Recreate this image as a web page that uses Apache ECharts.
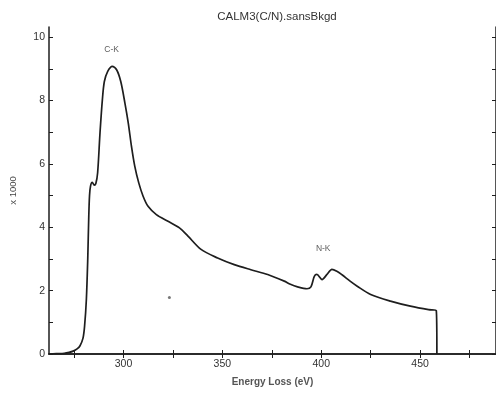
<!DOCTYPE html>
<html>
<head>
<meta charset="utf-8">
<script src="https://cdn.jsdelivr.net/npm/echarts@6/dist/echarts.min.js"></script>
<style>html,body{margin:0;padding:0;background:#fff;}#c{width:496px;height:397px;}</style>
</head>
<body>
<div id="c"></div>
<script>
// Energy loss (eV)
const energy = [262, 266, 270, 272.5, 274.5, 276.5, 278, 279.5, 280.3, 281.2, 281.9, 282.4, 282.8, 283.3,
  284.2, 285.2, 286, 286.9, 288.1, 289.3, 290.3, 292, 294.3, 296.5, 298.6, 300.7, 302.4, 304,
  305.7, 307.7, 309.9, 312.4, 316.6, 322.5, 328.3, 332.6, 339.2, 347.6, 356, 364.4, 372.9, 381.3,
  384.4, 388, 392.8, 394.8, 396.5, 397.8, 400.4, 402.9, 405.4, 407.9, 410.5, 414.6, 418.2, 425,
  435, 445.1, 454.3, 458.2, 458.5];
// Counts (x 1000)
const counts = [0, 0.01, 0.02, 0.05, 0.09, 0.16, 0.26, 0.5, 0.88, 1.72, 3.0, 4.3, 5.0, 5.3,
  5.42, 5.33, 5.38, 5.72, 6.98, 8.03, 8.6, 8.92, 9.08, 8.97, 8.6, 7.92, 7.29, 6.56,
  5.92, 5.4, 4.98, 4.66, 4.4, 4.19, 3.98, 3.72, 3.3, 3.03, 2.82, 2.66, 2.51, 2.3,
  2.2, 2.12, 2.06, 2.12, 2.45, 2.51, 2.35, 2.51, 2.67, 2.61, 2.5, 2.3, 2.14, 1.88,
  1.67, 1.51, 1.4, 1.37, 0];
// Annotations
const annoLabels = ['C-K', 'N-K'];
const annoX = [294, 401];
const annoY = [9.6, 3.33];
const dotX = [323.2];
const dotY = [1.78];
const xTickLabels = [300, 350, 400, 450];
const xMinorTicks = [275, 300, 325, 350, 375, 400, 425, 450, 475];
const yTickLabels = [0, 2, 4, 6, 8, 10];
const yMinorTicks = [0, 1, 2, 3, 4, 5, 6, 7, 8, 9, 10];

const ink = '#1e1e1e';
const fontFam = 'Liberation Sans, Arial, sans-serif';
const chart = echarts.init(document.getElementById('c'));
chart.setOption({
  backgroundColor: '#ffffff',
  animation: false,
  title: {
    text: 'CALM3(C/N).sansBkgd', left: 272, top: 6, textAlign: 'center',
    textStyle: { fontSize: 11.5, fontWeight: 'normal', color: '#333', fontFamily: fontFam }
  },
  grid: { left: 47, top: 27, width: 450, height: 327 },
  xAxis: [{
    type: 'value', min: 262.3, max: 488.4,
    name: 'Energy Loss (eV)', nameLocation: 'middle', nameGap: 23,
    nameTextStyle: { fontSize: 10, fontWeight: 'bold', color: '#555', fontFamily: fontFam },
    axisLine: { show: true, lineStyle: { color: ink, width: 1.5 } },
    axisTick: { show: true, inside: true, length: 4, customValues: xMinorTicks, lineStyle: { color: ink, width: 1 } },
    axisLabel: { customValues: xTickLabels, fontSize: 10.5, color: '#333', margin: 5, fontFamily: fontFam },
    splitLine: { show: false }
  }, {
    type: 'value', position: 'top', min: 262.3, max: 488.4,
    axisLine: { show: true, lineStyle: { color: ink, width: 1.5 } },
    axisTick: { show: true, inside: true, length: 4, customValues: xMinorTicks, lineStyle: { color: ink, width: 1 } },
    axisLabel: { show: false },
    splitLine: { show: false }
  }],
  yAxis: [{
    type: 'value', min: 0, max: 10.32,
    name: 'x 1000', nameLocation: 'middle', nameGap: 31, nameRotate: 90,
    nameTextStyle: { fontSize: 9.5, color: '#444', fontFamily: fontFam },
    axisLine: { show: true, lineStyle: { color: ink, width: 1.5 } },
    axisTick: { show: true, inside: true, length: 4, customValues: yMinorTicks, lineStyle: { color: ink, width: 1 } },
    axisLabel: { customValues: yTickLabels, fontSize: 10.5, color: '#333', margin: 4, fontFamily: fontFam },
    splitLine: { show: false }
  }, {
    type: 'value', position: 'right', min: 0, max: 10.32,
    axisLine: { show: true, lineStyle: { color: ink, width: 1.5 } },
    axisTick: { show: true, inside: true, length: 4, customValues: yMinorTicks, lineStyle: { color: ink, width: 1 } },
    axisLabel: { show: false },
    splitLine: { show: false }
  }],
  series: [{
    type: 'line', xAxisIndex: 0, yAxisIndex: 0,
    data: energy.map((e, i) => [e, counts[i]]),
    showSymbol: false, smooth: 0.3,
    lineStyle: { color: ink, width: 1.7 }
  }, {
    type: 'scatter', xAxisIndex: 0, yAxisIndex: 0,
    data: annoX.map((x, i) => ({ value: [x, annoY[i]], name: annoLabels[i] })),
    symbolSize: 0,
    label: { show: true, position: 'inside', formatter: p => p.name, fontSize: 8.5, color: '#333', fontFamily: fontFam }
  }, {
    type: 'scatter', xAxisIndex: 0, yAxisIndex: 0,
    data: dotX.map((x, i) => [x, dotY[i]]),
    symbolSize: 3, itemStyle: { color: '#555' }
  }]
});
</script>
</body>
</html>
